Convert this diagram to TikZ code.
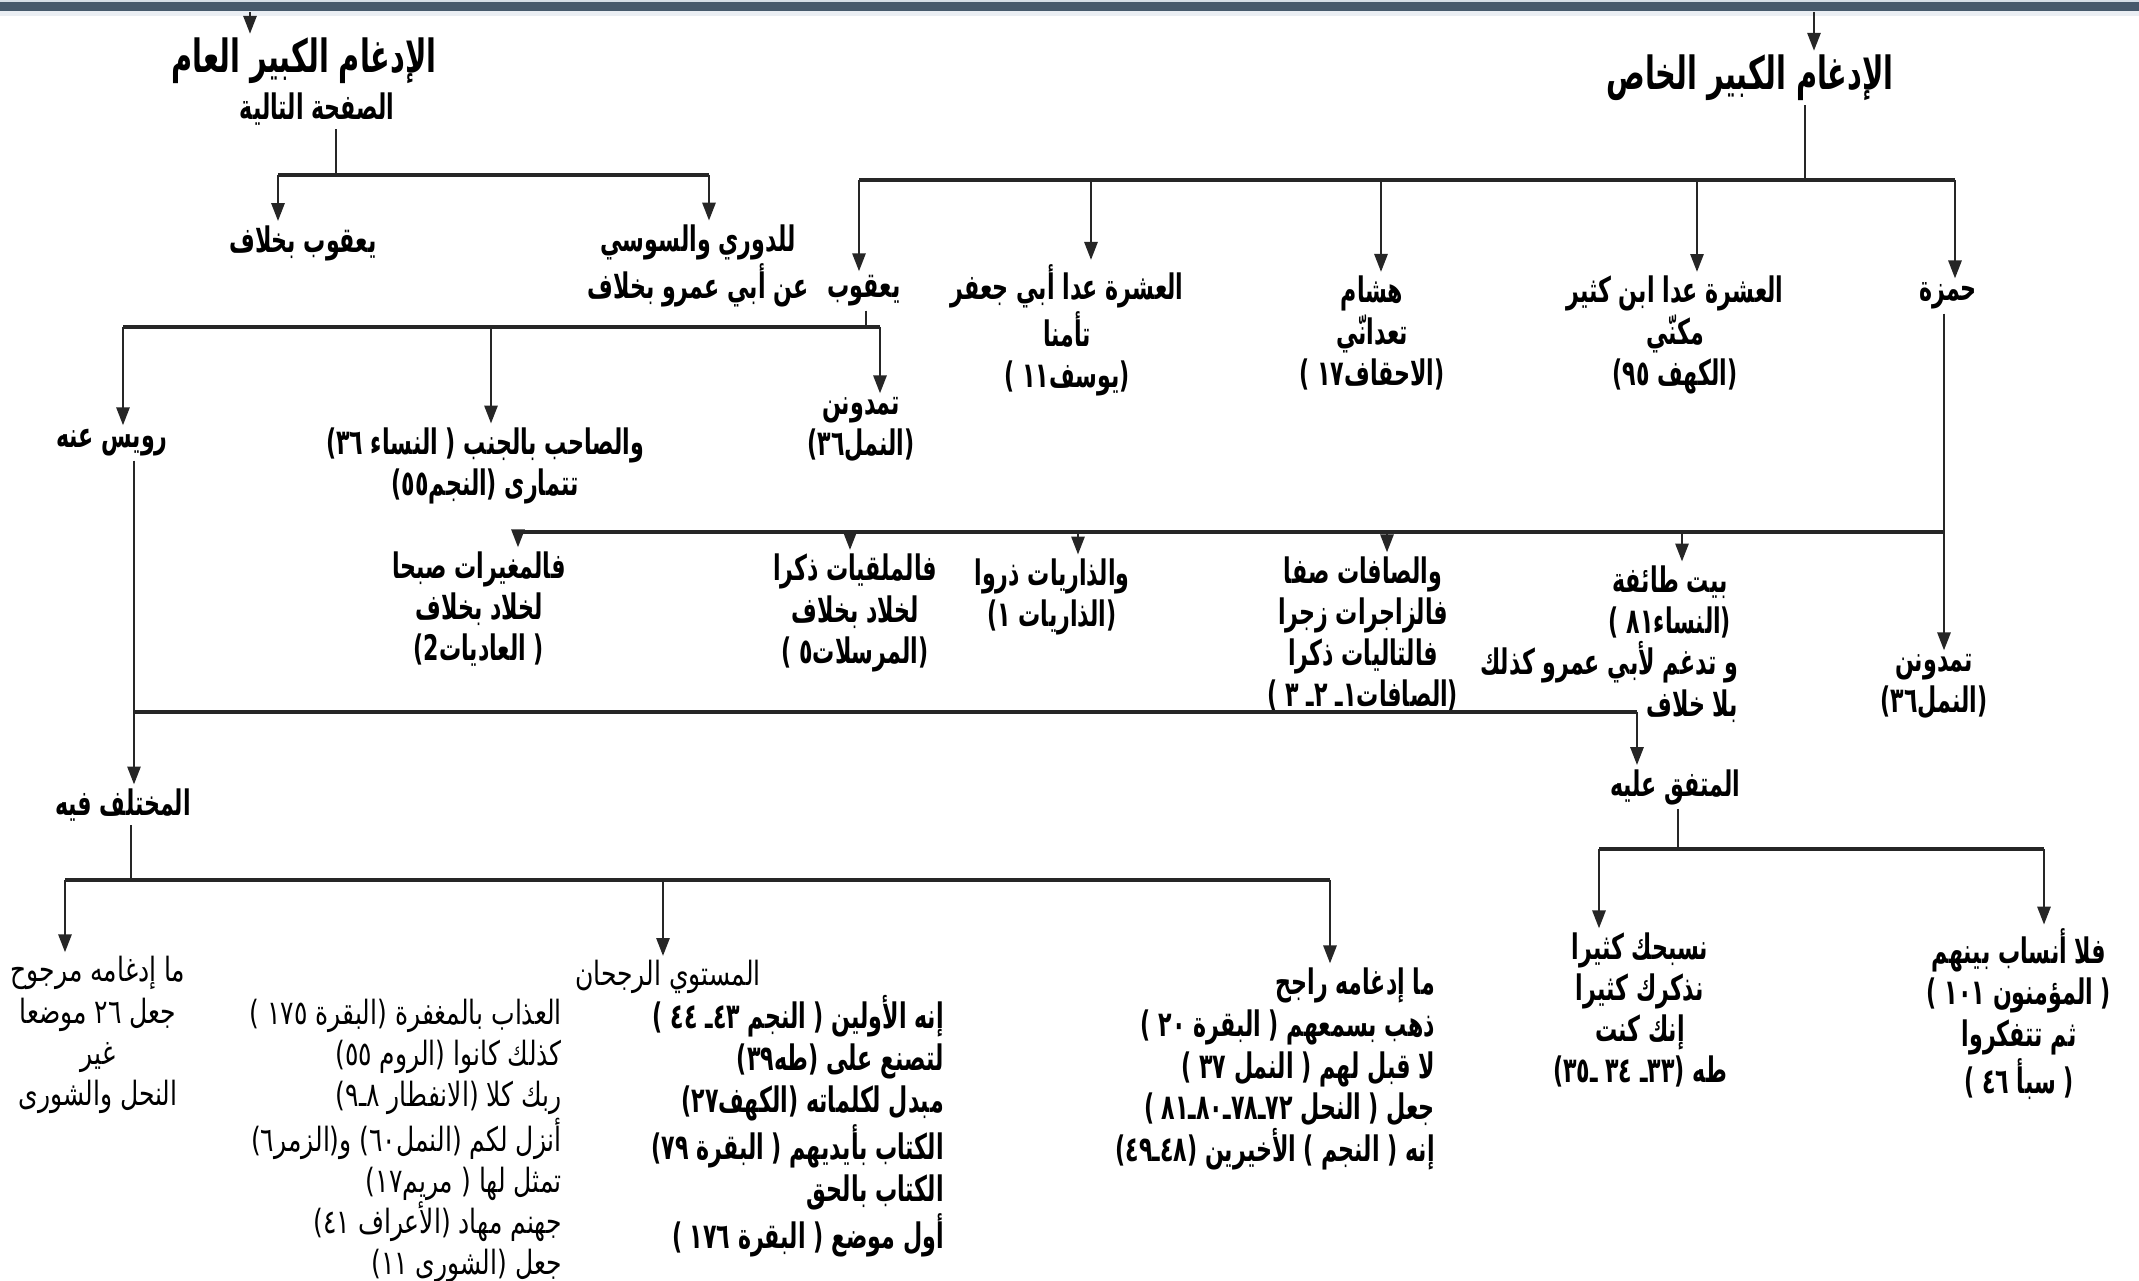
\documentclass[tikz,border=0pt]{standalone}
\usepackage{fontspec}
\usetikzlibrary{arrows.meta}
\TeXXeTstate=1
\newfontfamily\arabicfont[Script=Arabic,FakeStretch=0.75,BoldFeatures={FakeStretch=0.63}]{DejaVu Sans}
\newcommand\rl[1]{\beginR#1\endR}
\definecolor{barblue}{HTML}{46596B}
\definecolor{barlight}{HTML}{D5DEE6}
\begin{document}
\begin{tikzpicture}[x=0.1mm,y=-0.1mm,
  t/.style={font=\arabicfont\bfseries\fontsize{10}{11.7}\selectfont, inner sep=1pt, align=center},
  tr/.style={t, align=right, font=\arabicfont\bfseries\fontsize{10}{11.9}\selectfont},
  tn/.style={font=\arabicfont\fontsize{9.5}{11.7}\selectfont, inner sep=1pt, align=center},
  tnr/.style={tn, align=right},
  ttl/.style={font=\arabicfont\bfseries\fontsize{13}{15}\selectfont, inner sep=1pt},
  ln/.style={line width=0.8pt, black!85},
  bus/.style={line width=1.1pt, black!85},
  arr/.style={ln, -{Triangle[length=1.8mm,width=1.3mm]}}]
\useasboundingbox (0,0) rectangle (2139,1281);
\fill[white] (0,0) rectangle (2139,1281);
\fill[barlight] (0,0) rectangle (2139,2);
\fill[barblue] (0,2) rectangle (2139,11);
\fill[barlight!50] (0,11) rectangle (2139,16);

% ---- nodes
\node[ttl] (tAm) at (304,61) {\rl{الإدغام الكبير العام}};
\node[t] (tAmS) at (317,109) {\rl{الصفحة التالية}};
\node[t] (yqKh) at (303,243) {\rl{يعقوب بخلاف}};
\node[t] (dur) at (698,266) {\rl{للدوري والسوسي}\\\rl{عن أبي عمرو بخلاف}};
\node[ttl] (tKh) at (1750,78) {\rl{الإدغام الكبير الخاص}};
\node[t] (yaq) at (864,291) {\rl{يعقوب}};
\node[t] (ashJ) at (1067,330) {\rl{العشرة عدا أبي جعفر}\\\rl{تأمنا}\\\rl{(يوسف١١ )}};
\node[t] (hish) at (1372,333) {\rl{هشام}\\\rl{تعدانّي}\\\rl{(الاحقاف١٧ )}};
\node[t] (ashK) at (1675,335) {\rl{العشرة عدا ابن كثير}\\\rl{مكنّي}\\\rl{(الكهف ٩٥)}};
\node[t] (hamza) at (1948,296) {\rl{حمزة}};
\node[t] (tamd1) at (861,430) {\rl{تمدونن}\\\rl{(النمل٣٦)}};
\node[t] (sahib) at (485,466) {\rl{والصاحب بالجنب ( النساء ٣٦)}\\\rl{تتمارى (النجم٥٥)}};
\node[t] (ruwais) at (112,443) {\rl{رويس عنه}};
\node[t] (mugh) at (479,609) {\rl{فالمغيرات صبحا}\\\rl{لخلاد بخلاف}\\\rl{( العاديات2)}};
\node[t] (mulq) at (855,613) {\rl{فالملقيات ذكرا}\\\rl{لخلاد بخلاف}\\\rl{(المرسلات٥ )}};
\node[t] (dhar) at (1052,597) {\rl{والذاريات ذروا}\\\rl{(الذاريات ١)}};
\node[t] (saff) at (1363,634) {\rl{والصافات صفا}\\\rl{فالزاجرات زجرا}\\\rl{فالتاليات ذكرا}\\\rl{(الصافات١ـ ٢ـ ٣ )}};
\node[t] (bayt) at (1670,602) {\rl{بيت طائفة}\\\rl{(النساء٨١ )}};
\node[tr, anchor=east] (baytB) at (1742,682) {\rl{و تدغم لأبي عمرو كذلك}\\\rl{بلا خلاف}};
\node[t] (tamd2) at (1934,687) {\rl{تمدونن}\\\rl{(النمل٣٦)}};
\node[t] (mukh) at (123,805) {\rl{المختلف فيه}};
\node[t] (mutt) at (1675,787) {\rl{المتفق عليه}};
\node[t] (nusab) at (1640,1010) {\rl{نسبحك كثيرا}\\\rl{نذكرك كثيرا}\\\rl{إنك كنت}\\\rl{طه (٣٣ـ ٣٤ ـ٣٥)}};
\node[t] (fala) at (2019,1014) {\rl{فلا أنساب بينهم}\\\rl{( المؤمنون ١٠١ )}\\\rl{ثم تتفكروا}\\\rl{( سبأ ٤٦ )}};
\node[tn] (marj) at (98,1035) {\rl{ما إدغامه مرجوح}\\\rl{جعل ٢٦ موضعا}\\\rl{غير}\\\rl{النحل والشورى}};
\node[tn] (mustawi) at (668,977) {\rl{المستوي الرجحان}};
\node[tr, anchor=east] (listR) at (948,1126) {\rl{إنه الأولين ( النجم ٤٣ـ ٤٤ )}\\\rl{لتصنع على (طه٣٩)}\\\rl{مبدل لكلماته (الكهف٢٧)}\\\rl{الكتاب بأيديهم ( البقرة ٧٩)}\\\rl{الكتاب بالحق}\\\rl{أول موضع ( البقرة ١٧٦ )}};
\node[tnr, anchor=east] (listL) at (566,1141) {\rl{العذاب بالمغفرة (البقرة ١٧٥ )}\\\rl{كذلك كانوا (الروم ٥٥)}\\\rl{ربك كلا (الانفطار ٨ـ٩)}\\\rl{أنزل لكم (النمل٦٠) و(الزمر٦)}\\\rl{تمثل لها ( مريم١٧)}\\\rl{جهنم مهاد (الأعراف ٤١)}\\\rl{جعل (الشورى ١١)}};
\node[tr, anchor=east] (rajih) at (1439,1069) {\rl{ما إدغامه راجح}\\\rl{ذهب بسمعهم ( البقرة ٢٠ )}\\\rl{لا قبل لهم ( النمل ٣٧ )}\\\rl{جعل ( النحل ٧٢ـ٧٨ـ٨٠ـ٨١ )}\\\rl{إنه ( النجم ) الأخيرين (٤٨ـ٤٩)}};

% ---- junction coordinates
\coordinate (topL) at (250,12);
\coordinate (jL) at (336,175);
\coordinate (hL1) at (278,175);
\coordinate (hL2) at (709,175);
\coordinate (topR) at (1814,12);
\coordinate (jR) at (1805,180);
\coordinate (bR1) at (859,180);
\coordinate (bR2) at (1091,180);
\coordinate (bR3) at (1381,180);
\coordinate (bR4) at (1697,180);
\coordinate (bR5) at (1955,180);
\coordinate (jY) at (866,327);
\coordinate (bY1) at (123,327);
\coordinate (bY2) at (491,327);
\coordinate (bY3) at (880,327);
\coordinate (jRw) at (134,712);
\coordinate (bMt) at (1637,712);
\coordinate (jH) at (1944,532);
\coordinate (bH1) at (518,532);
\coordinate (bH2) at (850,532);
\coordinate (bH3) at (1078,532);
\coordinate (bH4) at (1387,532);
\coordinate (bH5) at (1682,532);
\coordinate (jM) at (1678,849);
\coordinate (bM1) at (1599,849);
\coordinate (bM2) at (2044,849);
\coordinate (jK) at (131,880);
\coordinate (bK1) at (65,880);
\coordinate (bK2) at (663,880);
\coordinate (bK3) at (1330,880);

% ---- connectors
\draw[arr] (topL) -- (topL |- tAm.north);
\draw[ln] (tAmS.south -| jL) -- (jL);
\draw[bus] (hL1) -- (hL2);
\draw[arr] (hL1) -- (hL1 |- yqKh.north);
\draw[arr] (hL2) -- (hL2 |- dur.north);

\draw[arr] (topR) -- (topR |- tKh.north);
\draw[ln] (tKh.south -| jR) -- (jR);
\draw[bus] (bR1) -- (bR5);
\draw[arr] (bR1) -- (bR1 |- yaq.north);
\draw[arr] (bR2) -- (bR2 |- ashJ.north);
\draw[arr] (bR3) -- (bR3 |- hish.north);
\draw[arr] (bR4) -- (bR4 |- ashK.north);
\draw[arr] (bR5) -- (bR5 |- hamza.north);

\draw[ln] (yaq.south -| jY) -- (jY);
\draw[bus] (bY1) -- (bY3);
\draw[arr] (bY1) -- (bY1 |- ruwais.north);
\draw[arr] (bY2) -- (bY2 |- sahib.north);
\draw[arr] (bY3) -- (bY3 |- tamd1.north);

\draw[arr] (ruwais.south -| jRw) -- (jRw |- mukh.north);
\draw[bus] (jRw) -- (bMt);
\draw[arr] (bMt) -- (bMt |- mutt.north);

\draw[ln] (hamza.south -| jH) -- (jH);
\draw[arr] (jH) -- (jH |- tamd2.north);
\draw[bus] (bH1) -- (jH);
\draw[arr] (bH1) -- (bH1 |- mugh.north);
\draw[arr] (bH2) -- (bH2 |- mulq.north);
\draw[arr] (bH3) -- (bH3 |- dhar.north);
\draw[arr] (bH4) -- (bH4 |- saff.north);
\draw[arr] (bH5) -- (bH5 |- bayt.north);

\draw[ln] (mutt.south -| jM) -- (jM);
\draw[bus] (bM1) -- (bM2);
\draw[arr] (bM1) -- (bM1 |- nusab.north);
\draw[arr] (bM2) -- (bM2 |- fala.north);

\draw[ln] (mukh.south -| jK) -- (jK);
\draw[bus] (bK1) -- (bK3);
\draw[arr] (bK1) -- (bK1 |- marj.north);
\draw[arr] (bK2) -- (bK2 |- mustawi.north);
\draw[arr] (bK3) -- (bK3 |- rajih.north);
\end{tikzpicture}
\end{document}
